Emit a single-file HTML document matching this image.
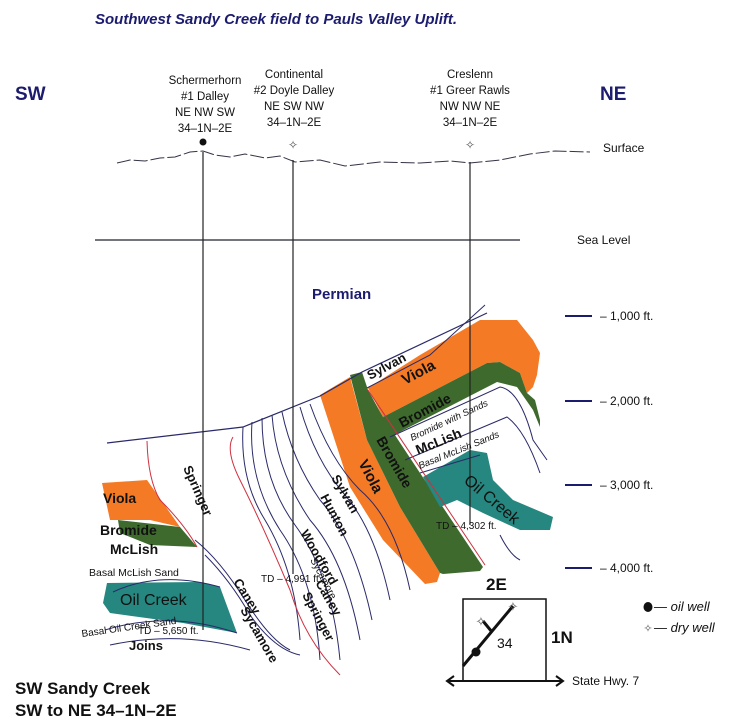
<!DOCTYPE html>
<html><head><meta charset="utf-8"><style>
html,body{margin:0;padding:0;background:#fff}
svg{display:block}
text{font-family:"Liberation Sans",sans-serif}
</style></head><body>
<svg width="750" height="728" viewBox="0 0 750 728" xmlns="http://www.w3.org/2000/svg">
<text x="95" y="24" font-size="15" font-weight="bold" font-style="italic" fill="#1c1c6e">Southwest Sandy Creek field to Pauls Valley Uplift.</text>
<text x="15" y="100" font-size="19" font-weight="bold" fill="#1c1c6e">SW</text>
<text x="600" y="100" font-size="19" font-weight="bold" fill="#1c1c6e">NE</text>
<g font-size="11.5" fill="#111" text-anchor="middle">
<text x="205" y="84">Schermerhorn</text><text x="205" y="100">#1 Dalley</text><text x="205" y="116">NE NW SW</text><text x="205" y="132">34–1N–2E</text>
<text x="294" y="78">Continental</text><text x="294" y="94">#2 Doyle Dalley</text><text x="294" y="110">NE SW NW</text><text x="294" y="126">34–1N–2E</text>
<text x="470" y="78">Creslenn</text><text x="470" y="94">#1 Greer Rawls</text><text x="470" y="110">NW NW NE</text><text x="470" y="126">34–1N–2E</text>
</g>
<circle cx="203" cy="142" r="3.5" fill="#111"/>
<text x="293" y="149" font-size="12" text-anchor="middle" fill="#555">✧</text>
<text x="470" y="149" font-size="12" text-anchor="middle" fill="#555">✧</text>
<path d="M117 163 L130 160 L145 161 L160 158 L175 157 L190 152 L203 151 L215 155 L230 157 L245 154 L265 158 L280 156 L295 162 L320 160 L345 166 L380 162 L420 163 L450 161 L470 163 L500 160 L530 154 L555 151 L590 152" fill="none" stroke="#334" stroke-width="1" stroke-dasharray="14 3"/>
<text x="603" y="152" font-size="12" fill="#111">Surface</text>
<line x1="95" y1="240" x2="520" y2="240" stroke="#223" stroke-width="1.3"/>
<text x="577" y="244" font-size="12" fill="#111">Sea Level</text>
<g stroke="#1c1c6e" stroke-width="2"><line x1="565" y1="316" x2="592" y2="316"/><line x1="565" y1="401" x2="592" y2="401"/><line x1="565" y1="485" x2="592" y2="485"/><line x1="565" y1="568" x2="592" y2="568"/></g>
<g font-size="12" fill="#111"><text x="600" y="320">– 1,000 ft.</text><text x="600" y="405">– 2,000 ft.</text><text x="600" y="489">– 3,000 ft.</text><text x="600" y="572">– 4,000 ft.</text></g>
<text x="312" y="299" font-size="15" font-weight="bold" fill="#1c1c6e">Permian</text>
<!-- right diagonal orange -->
<path d="M320 395 L350 377 L367 440 L400 507 L440 573 L437 582 L425 584 L383 540 L350 487 Z" fill="#f47a25"/>
<!-- upper orange -->
<path d="M368 388 L420 355 L480 320 L517 320 L533 340 L540 353 L537 375 L533 387 L527 393 L520 373 L500 362 L487 363 L383 417 Z" fill="#f47a25"/>
<!-- green diagonal -->
<path d="M350 375 L362 372 L368 390 L383 417 L420 473 L483 567 L480 571 L443 574 L440 573 L400 507 L367 440 Z" fill="#3f6a2e"/>
<!-- green upper -->
<path d="M383 417 L487 363 L500 362 L520 373 L527 393 L535 400 L540 420 L540 427 L533 410 L517 387 L497 382 L390 437 Z" fill="#3f6a2e"/>
<!-- teal right -->
<path d="M423 477 L470 450 L487 453 L493 480 L513 500 L553 517 L550 530 L520 530 L483 513 L457 500 L440 507 Z" fill="#25877f"/>
<!-- left colored -->
<path d="M102 483 L147 480 L180 527 L150 520 L118 520 L110 520 Z" fill="#f47a25"/>
<path d="M118 520 L180 527 L197 547 L150 545 L120 533 Z" fill="#3f6a2e"/>
<path d="M107 583 L200 582 L220 587 L237 633 L183 623 L110 613 L103 603 Z" fill="#25877f"/>
<!-- unconformity -->
<path d="M107 443 L243 427 L320 396 L362 372 L487 313" fill="none" stroke="#2a2a6a" stroke-width="1.2"/>
<path d="M367 388 L430 355 L485 305" fill="none" stroke="#2a2a6a" stroke-width="1"/>
<!-- contours -->
<g fill="none" stroke="#2a2a6a" stroke-width="1">
<path d="M243 427 Q240 480 265 520 Q295 570 300 640"/>
<path d="M252 422 Q248 480 280 530 Q315 580 320 660"/>
<path d="M262 418 Q262 480 295 525 Q332 575 340 660"/>
<path d="M272 415 Q276 470 310 520 Q345 560 360 640"/>
<path d="M282 412 Q292 460 320 500 Q355 540 372 620"/>
<path d="M300 407 Q315 460 345 495 Q375 530 390 600"/>
<path d="M310 404 Q330 460 360 490 Q395 520 410 590"/>
<path d="M195 540 Q220 560 245 600 Q270 640 290 650"/>
<path d="M205 555 Q230 580 250 615 Q275 650 300 655"/>
<path d="M113 592 Q160 570 220 587"/>
<path d="M105 630 Q170 610 237 633"/>
<path d="M110 645 Q180 630 250 650"/>
<path d="M390 437 L500 387 Q520 390 533 440 L547 460"/>
<path d="M405 460 L507 417 Q525 430 540 473"/>
<path d="M420 473 L480 455"/>
<path d="M500 535 Q510 555 520 560"/>
</g>
<g fill="none" stroke="#d03040" stroke-width="1">
<path d="M147 441 Q148 480 160 500 Q185 525 197 547"/>
<path d="M233 437 Q225 450 240 480 Q265 530 290 590 Q305 640 340 675"/>
<path d="M368 390 L485 565"/>
</g>
<!-- wells -->
<g stroke="#222" stroke-width="1.2">
<line x1="203" y1="152" x2="203" y2="630"/>
<line x1="293" y1="160" x2="293" y2="574"/>
<line x1="470" y1="162" x2="470" y2="525"/>
</g>
<text x="138" y="634" font-size="10" fill="#111">TD – 5,650 ft.</text>
<text x="261" y="582" font-size="10" fill="#111">TD – 4,991 ft.</text>
<text x="436" y="529" font-size="10" fill="#111">TD – 4,302 ft.</text>
<!-- labels -->
<g font-weight="bold" fill="#111">
<text x="103" y="503" font-size="14">Viola</text>
<text x="100" y="535" font-size="14">Bromide</text>
<text x="110" y="554" font-size="14">McLish</text>
<text x="89" y="576" font-size="10.5" font-weight="normal">Basal McLish Sand</text>
<text x="120" y="605" font-size="16" font-weight="normal">Oil Creek</text>
<text x="82" y="637" font-size="10" font-weight="normal" transform="rotate(-8 82 637)">Basal Oil Creek Sand</text>
<text x="129" y="650" font-size="13">Joins</text>
<text x="183" y="468" font-size="13" transform="rotate(66 183 468)">Springer</text>
<text x="233" y="582" font-size="13" transform="rotate(58 233 582)">Caney</text>
<text x="240" y="610" font-size="13" transform="rotate(60 240 610)">Sycamore</text>
<text x="300" y="533" font-size="13" transform="rotate(60 300 533)">Woodford</text>
<text x="320" y="497" font-size="13" transform="rotate(62 320 497)">Hunton</text>
<text x="331" y="478" font-size="13" transform="rotate(60 331 478)">Sylvan</text>
<text x="310" y="560" font-size="10" font-weight="normal" transform="rotate(62 310 560)">Sycamore</text>
<text x="315" y="583" font-size="13" transform="rotate(60 315 583)">Caney</text>
<text x="302" y="595" font-size="13" transform="rotate(62 302 595)">Springer</text>
<text x="358" y="463" font-size="15" transform="rotate(62 358 463)">Viola</text>
<text x="376" y="440" font-size="14" transform="rotate(60 376 440)">Bromide</text>
<text x="370" y="380" font-size="13" transform="rotate(-28 370 380)">Sylvan</text>
<text x="405" y="385" font-size="15" transform="rotate(-28 405 385)">Viola</text>
<text x="402" y="428" font-size="14" transform="rotate(-28 402 428)">Bromide</text>
<text x="412" y="441" font-size="9.5" font-weight="normal" font-style="italic" transform="rotate(-25 412 441)">Bromide with Sands</text>
<text x="418" y="455" font-size="14" transform="rotate(-22 418 455)">McLish</text>
<text x="420" y="469" font-size="9.5" font-weight="normal" font-style="italic" transform="rotate(-22 420 469)">Basal McLish Sands</text>
<text x="463" y="482" font-size="16" font-weight="normal" transform="rotate(40 463 482)">Oil Creek</text>
</g>
<text x="15" y="694" font-size="17" font-weight="bold" fill="#111">SW Sandy Creek</text>
<text x="15" y="716" font-size="17" font-weight="bold" fill="#111">SW to NE 34–1N–2E</text>
<!-- map -->
<text x="486" y="590" font-size="17" font-weight="bold" fill="#111">2E</text>
<text x="551" y="643" font-size="17" font-weight="bold" fill="#111">1N</text>
<rect x="463" y="599" width="83" height="82" fill="none" stroke="#111" stroke-width="1.5"/>
<line x1="463" y1="666" x2="513" y2="606" stroke="#111" stroke-width="3"/>
<line x1="483" y1="621" x2="492" y2="632" stroke="#111" stroke-width="3"/>
<circle cx="476" cy="652" r="4.5" fill="#111"/>
<text x="481" y="626" font-size="13" text-anchor="middle" fill="#555">✧</text>
<text x="513" y="611" font-size="13" text-anchor="middle" fill="#555">✧</text>
<text x="497" y="648" font-size="14" fill="#111">34</text>
<line x1="448" y1="681" x2="562" y2="681" stroke="#111" stroke-width="2"/>
<path d="M454 676 L447 681 L454 686 M556 676 L563 681 L556 686" fill="none" stroke="#111" stroke-width="2"/>
<text x="572" y="685" font-size="12" fill="#111">State Hwy. 7</text>
<ellipse cx="648" cy="607" rx="4.5" ry="5" fill="#111"/>
<text x="654" y="611" font-size="13" font-style="italic" fill="#111">— oil well</text>
<text x="648" y="632" font-size="11" text-anchor="middle" fill="#555">✧</text>
<text x="654" y="632" font-size="13" font-style="italic" fill="#111">— dry well</text>
</svg>
</body></html>
